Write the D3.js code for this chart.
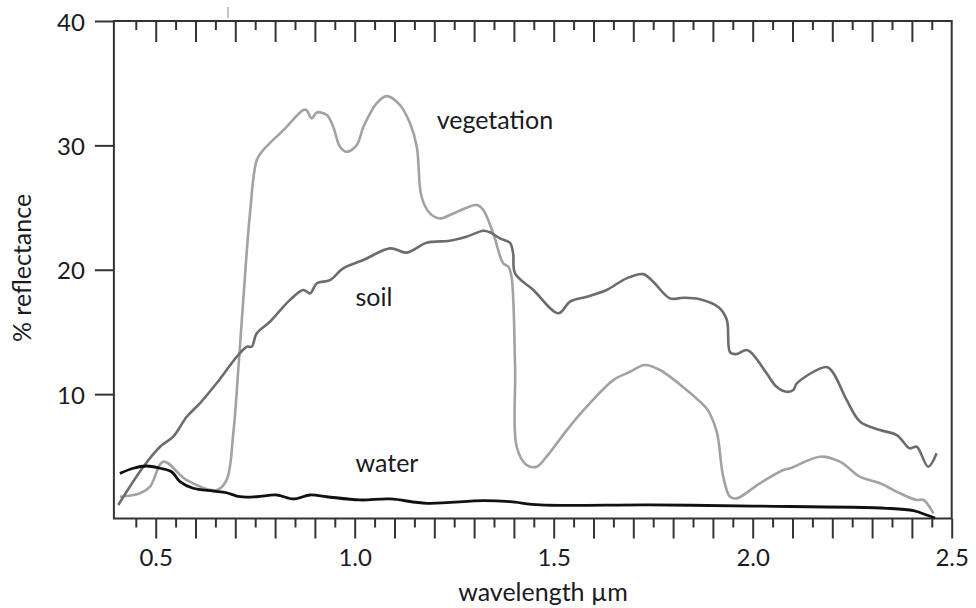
<!DOCTYPE html>
<html>
<head>
<meta charset="utf-8">
<script src="https://cdn.jsdelivr.net/npm/d3@7"></script>
<style>
html,body{margin:0;padding:0;background:#fff;}
svg{display:block;}
text{font-family:Lato,"Open Sans",sans-serif;fill:#1a1a24;}
</style>
</head>
<body>
<svg id="chart" width="976" height="608"></svg>
<script>
// wavelength (µm) and % reflectance
const vegetationWl = [0.410,0.461,0.486,0.519,0.578,0.653,0.678,0.695,0.708,0.720,0.737,0.754,0.770,0.821,0.871,0.879,0.892,0.905,0.930,0.946,0.963,0.980,1.005,1.022,1.055,1.080,1.114,1.139,1.156,1.168,1.189,1.214,1.248,1.307,1.323,1.348,1.373,1.386,1.394,1.403,1.407,1.432,1.457,1.482,1.533,1.583,1.650,1.692,1.729,1.767,1.834,1.884,1.892,1.910,1.926,1.943,1.960,2.018,2.077,2.094,2.169,2.219,2.269,2.320,2.370,2.412,2.429,2.454];
const vegetationR  = [1.75,2.03,2.56,4.57,3.09,2.29,3.09,6.87,12.2,17.56,24.56,28.82,29.62,31.23,32.84,32.84,32.17,32.65,32.44,31.50,29.89,29.49,30.02,31.50,33.38,33.96,33.24,31.77,29.89,25.87,24.53,24.13,24.53,25.20,24.80,22.93,20.52,20.24,19.44,12.20,5.77,4.30,4.16,4.97,7.11,8.99,11.13,11.80,12.34,11.94,10.33,8.86,8.46,6.95,3.36,1.75,1.62,2.83,3.90,4.04,4.97,4.57,3.36,2.83,2.03,1.49,1.49,0.42];

const soilWl = [0.406,0.469,0.511,0.544,0.578,0.611,0.653,0.704,0.729,0.741,0.754,0.787,0.837,0.871,0.888,0.905,0.938,0.971,1.022,1.089,1.131,1.181,1.239,1.281,1.323,1.340,1.365,1.390,1.398,1.403,1.449,1.512,1.541,1.583,1.633,1.683,1.725,1.750,1.792,1.826,1.865,1.915,1.935,1.943,1.958,1.985,2.002,2.035,2.060,2.085,2.102,2.111,2.186,2.203,2.236,2.270,2.320,2.362,2.395,2.412,2.441,2.462];
const soilR  = [1.09,4.16,5.77,6.58,8.18,9.26,10.87,13.01,13.81,13.81,14.89,15.82,17.56,18.37,18.10,18.91,19.17,20.11,20.78,21.72,21.38,22.17,22.33,22.65,23.14,23.01,22.52,22.17,21.32,19.71,18.37,16.50,17.43,17.83,18.37,19.31,19.65,19.04,17.70,17.75,17.64,16.96,15.96,13.38,13.22,13.55,13.14,11.67,10.59,10.19,10.33,10.87,12.18,11.67,9.53,7.78,7.11,6.71,5.64,5.77,4.16,5.24];

const waterWl = [0.410,0.444,0.477,0.511,0.540,0.561,0.594,0.645,0.678,0.712,0.754,0.804,0.846,0.888,0.930,1.013,1.089,1.181,1.323,1.390,1.466,1.742,2.002,2.337,2.404,2.437,2.458];
const waterR  = [3.63,4.04,4.22,4.04,3.76,2.96,2.43,2.21,2.07,1.75,1.75,1.89,1.57,1.89,1.75,1.49,1.57,1.22,1.43,1.35,1.09,1.09,1.00,0.82,0.63,0.28,0.04];

const xMajorTicks = [0.5,0.6,0.7,0.8,0.9,1.0,1.1,1.2,1.3,1.4,1.5,1.6,1.7,1.8,1.9,2.0,2.1,2.2,2.3,2.4,2.5];
const xMinorTicks = [0.45,0.55,0.65,0.75,0.85,0.95,1.05,1.15,1.25,1.35,1.45,1.55,1.65,1.75,1.85,1.95,2.05,2.15,2.25,2.35,2.45];
const xLabelTicks = [0.5,1.0,1.5,2.0,2.5];
const yTicks = [10,20,30,40];

const labels = [
  {text:"vegetation", wl:1.206, r:31.3},
  {text:"soil", wl:1.002, r:17.1},
  {text:"water", wl:1.002, r:3.7}
];

const svg = d3.select("#chart");
const x = d3.scaleLinear().domain([0.395, 2.5]).range([113.9, 951.7]);
const y = d3.scaleLinear().domain([0, 40]).range([518.5, 21]);

const axisColor = "#333";

// bottom axis: major and minor ticks
const gB1 = svg.append("g").attr("transform", `translate(0,${y(0)})`)
  .call(d3.axisBottom(x).tickValues(xMajorTicks).tickSize(20).tickSizeOuter(0)
    .tickFormat(d => xLabelTicks.some(v => Math.abs(v - d) < 1e-9) ? d3.format(".1f")(d) : ""));
const gB2 = svg.append("g").attr("transform", `translate(0,${y(0)})`)
  .call(d3.axisBottom(x).tickValues(xMinorTicks).tickSize(9).tickSizeOuter(0).tickFormat(""));
// top axis: ticks pointing inward
const gT1 = svg.append("g").attr("transform", `translate(0,${y(40)})`)
  .call(d3.axisTop(x).tickValues(xMajorTicks.filter(d => d < 2.45)).tickSize(-21).tickSizeOuter(0).tickFormat(""));
const gT2 = svg.append("g").attr("transform", `translate(0,${y(40)})`)
  .call(d3.axisTop(x).tickValues(xMinorTicks).tickSize(-9).tickSizeOuter(0).tickFormat(""));
// left axis
const gL = svg.append("g").attr("transform", `translate(${x(0.395)},0)`)
  .call(d3.axisLeft(y).tickValues(yTicks).tickSize(19).tickSizeOuter(0).tickPadding(10));

[gB1,gB2,gT1,gT2,gL].forEach(g => {
  g.select(".domain").remove();
  g.selectAll(".tick line").attr("stroke", axisColor).attr("stroke-width", 2);
  g.selectAll(".tick text").style("font-size", "24px").style("font-family", "Lato, sans-serif").attr("fill", "#1a1a24");
});
gB1.selectAll(".tick text").attr("dy", "1.02em");
gL.selectAll(".tick text").attr("dy", "0.38em");

// frame
svg.append("rect")
  .attr("x", x(0.395)).attr("y", y(40))
  .attr("width", x(2.5) - x(0.395)).attr("height", y(0) - y(40))
  .attr("fill", "none").attr("stroke", axisColor).attr("stroke-width", 2);

// small gray mark above the frame
svg.append("line").attr("x1", 228).attr("x2", 228).attr("y1", 7).attr("y2", 18)
  .attr("stroke", "#c4c4c4").attr("stroke-width", 2);

const line = d3.line().x(d => x(d[0])).y(d => y(d[1])).curve(d3.curveCatmullRom.alpha(0.5));
const zip = (a, b) => a.map((v, i) => [v, b[i]]);

svg.append("path").datum(zip(vegetationWl, vegetationR))
  .attr("d", line).attr("fill", "none").attr("stroke", "#a2a2a2").attr("stroke-width", 2.6).attr("stroke-linejoin", "round");
svg.append("path").datum(zip(soilWl, soilR))
  .attr("d", line).attr("fill", "none").attr("stroke", "#6c6c6c").attr("stroke-width", 2.6).attr("stroke-linejoin", "round");
svg.append("path").datum(zip(waterWl, waterR))
  .attr("d", line).attr("fill", "none").attr("stroke", "#111").attr("stroke-width", 2.8).attr("stroke-linejoin", "round");

svg.selectAll(".lbl").data(labels).enter().append("text")
  .attr("class", "lbl")
  .attr("x", d => x(d.wl)).attr("y", d => y(d.r))
  .style("font-size", "25px")
  .text(d => d.text);

svg.append("text").attr("x", 543).attr("y", 601).attr("text-anchor", "middle")
  .style("font-size", "25px").text("wavelength µm");
svg.append("text").attr("transform", "translate(31,268) rotate(-90)").attr("text-anchor", "middle")
  .style("font-size", "25px").text("% reflectance");
</script>
</body>
</html>
